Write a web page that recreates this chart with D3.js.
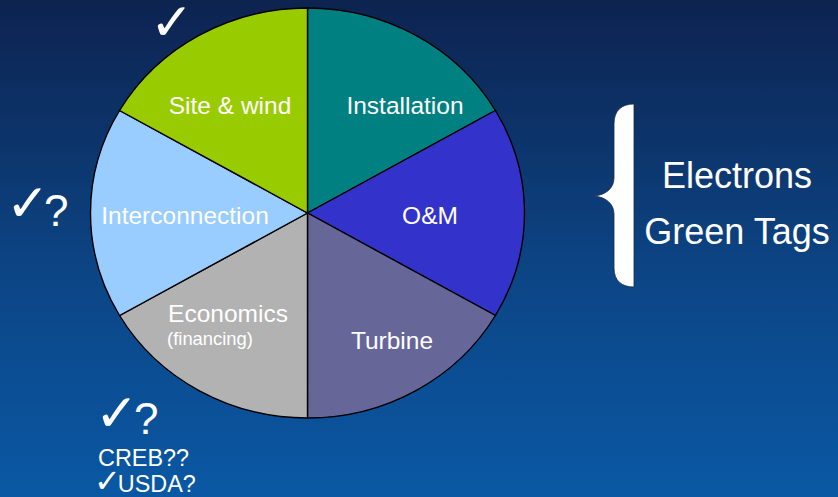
<!DOCTYPE html>
<html>
<head>
<meta charset="utf-8">
<script src="https://cdn.jsdelivr.net/npm/d3@7"></script>
<style>
  html, body { margin: 0; padding: 0; background: #0b3a78; }
  svg { display: block; }
  text { font-family: "Liberation Sans", Arial, sans-serif; fill: #ffffff; }
</style>
</head>
<body>
<svg id="chart" width="838" height="497"></svg>
<script>
// Project components, clockwise from twelve o'clock
const categories = ["Installation", "O&M", "Turbine", "Economics", "Interconnection", "Site & wind"];
const shares = [1, 1, 1, 1, 1, 1];
const sliceColors = ["#008080", "#3333cc", "#666699", "#b2b2b2", "#99ccff", "#99cc00"];
const subLabels = ["", "", "", "(financing)", "", ""];
const sideLines = ["Electrons", "Green Tags"];

const W = 838, H = 497;
const svg = d3.select("#chart");

// background gradient
const defs = svg.append("defs");
const grad = defs.append("linearGradient")
  .attr("id", "bg").attr("x1", 0).attr("y1", 0).attr("x2", 0).attr("y2", 1);
grad.append("stop").attr("offset", "0%").attr("stop-color", "#0d2350");
grad.append("stop").attr("offset", "55%").attr("stop-color", "#0c4585");
grad.append("stop").attr("offset", "100%").attr("stop-color", "#0a58a4");
svg.append("rect").attr("width", W).attr("height", H).attr("fill", "url(#bg)");

// pie (slightly wider than tall)
const cx = 307.5, cy = 213, R = 205, stretch = 217 / 205;
const pie = d3.pie().sort(null).value(d => d.v);
const arcs = pie(categories.map((c, i) => ({ name: c, v: shares[i], color: sliceColors[i], sub: subLabels[i] })));
const arc = d3.arc().innerRadius(0).outerRadius(R);

const g = svg.append("g").attr("transform", `translate(${cx},${cy}) scale(${stretch},1)`);
g.selectAll("path.slice")
  .data(arcs)
  .join("path")
  .attr("class", "slice")
  .attr("d", arc)
  .attr("fill", d => d.data.color)
  .attr("stroke", "#000")
  .attr("stroke-width", 1.4)
  .attr("vector-effect", "non-scaling-stroke");

// slice label placement (x centre, baseline y)
const labelAt = {
  "Installation":    [405, 114],
  "O&M":             [430, 224],
  "Turbine":         [392, 349],
  "Economics":       [228, 322],
  "Interconnection": [185, 224],
  "Site & wind":     [230, 114]
};
const labels = svg.append("g");
arcs.forEach(d => {
  const [x, y] = labelAt[d.data.name];
  labels.append("text")
    .attr("x", x).attr("y", y)
    .attr("text-anchor", "middle")
    .attr("font-size", 24.5)
    .text(d.data.name);
  if (d.data.sub) {
    labels.append("text")
      .attr("x", 210).attr("y", y + 23)
      .attr("text-anchor", "middle")
      .attr("font-size", 18.4)
      .text(d.data.sub);
  }
});

// check marks and notes
const check = (x, y, size) => svg.append("text")
  .attr("x", x).attr("y", y)
  .attr("font-family", "DejaVu Sans, sans-serif")
  .attr("font-size", size)
  .text("\u2713");
const query = (x, y) => svg.append("text")
  .attr("x", x).attr("y", y)
  .attr("font-size", 44)
  .text("?");

check(150, 40, 52);
check(6, 221, 52);
query(44, 226);
check(95, 431, 52);
query(134, 434);

svg.append("text").attr("x", 98).attr("y", 466).attr("font-size", 23.4).text("CREB??");
const usda = svg.append("text").attr("x", 94).attr("y", 492).attr("font-size", 23.4);
usda.append("tspan").attr("font-family", "DejaVu Sans, sans-serif").attr("font-size", 32).text("\u2713");
usda.append("tspan").attr("dx", -3).text("USDA?");

// curly brace
svg.append("path")
  .attr("d", "M634,104 C622,104 614,110 614,124 L614,178 C614,188 606,195 594,196 C606,197 614,204 614,214 L614,268 C614,281 622,287 634,287 Z")
  .attr("fill", "#ffffff")
  .attr("stroke", "#1b2a44")
  .attr("stroke-width", 0.8);

svg.selectAll("text.side")
  .data(sideLines)
  .join("text")
  .attr("class", "side")
  .attr("x", 737)
  .attr("y", (d, i) => 188 + i * 56)
  .attr("text-anchor", "middle")
  .attr("font-size", 36)
  .text(d => d);
</script>
</body>
</html>
